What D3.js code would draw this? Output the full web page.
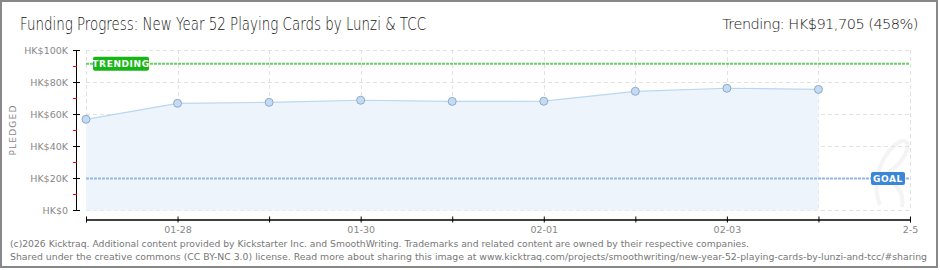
<!DOCTYPE html>
<html>
<head>
<meta charset="utf-8">
<script src="https://cdn.jsdelivr.net/npm/d3@7"></script>
<style>
  body { margin: 0; background: #fff; }
  svg text { font-family: "DejaVu Sans", sans-serif; }
</style>
</head>
<body>
<div id="chart"></div>
<script>
// values
var days = ["2026-01-27", "2026-01-28", "2026-01-29", "2026-01-30", "2026-01-31",
            "2026-02-01", "2026-02-02", "2026-02-03", "2026-02-04"];
var pledged = [57000, 67000, 67600, 68900, 68200, 68300, 74500, 76400, 75700];
var axisDays = ["2026-01-27", "2026-01-28", "2026-01-29", "2026-01-30", "2026-01-31",
                "2026-02-01", "2026-02-02", "2026-02-03", "2026-02-04", "2026-02-05"];
var axisLabels = ["", "01-28", "", "01-30", "", "02-01", "", "02-03", "", "2-5"];
var yTicks = [0, 20000, 40000, 60000, 80000, 100000];
var yTickLabels = ["HK$0", "HK$20K", "HK$40K", "HK$60K", "HK$80K", "HK$100K"];
var yMinor = [10000, 30000, 50000, 70000, 90000];
var goal = 20000;
var trending = 91705;

var W = 940, H = 270;
var parse = d3.timeParse("%Y-%m-%d");

var svg = d3.select("#chart").append("svg")
    .attr("width", W)
    .attr("height", H);

var x = d3.scaleTime()
    .domain([parse(axisDays[0]), parse(axisDays[axisDays.length - 1])])
    .range([86, 910]);
var y = d3.scaleLinear()
    .domain([0, 100000])
    .range([210.5, 50.5]);

// border
svg.append("rect")
   .attr("x", 1).attr("y", 1)
   .attr("width", 936).attr("height", 266)
   .attr("fill", "#fff")
   .attr("stroke", "#888")
   .attr("stroke-width", 2);

// faint watermark swoosh
svg.append("path")
   .attr("d", "M880,205 C872,185 878,160 895,145 C905,137 912,142 905,155 C898,168 885,175 878,178 C895,180 905,192 902,207")
   .attr("fill", "none")
   .attr("stroke", "#f4f4f4")
   .attr("stroke-width", 4);

// grid
svg.append("g").selectAll("line")
   .data(axisDays)
   .enter().append("line")
   .attr("x1", d => Math.round(x(parse(d))) + 0.5)
   .attr("x2", d => Math.round(x(parse(d))) + 0.5)
   .attr("y1", 50).attr("y2", 211)
   .attr("stroke", "#e2e2e2")
   .attr("stroke-dasharray", "4,3");
svg.append("g").selectAll("line")
   .data(yTicks)
   .enter().append("line")
   .attr("x1", 86).attr("x2", 910)
   .attr("y1", d => y(d)).attr("y2", d => y(d))
   .attr("stroke", "#e2e2e2")
   .attr("stroke-dasharray", "4,3");

// area + line
var pts = days.map((d, i) => ({date: parse(d), v: pledged[i]}));
svg.append("path")
   .datum(pts)
   .attr("fill", "#edf4fc")
   .attr("d", d3.area().x(d => x(d.date)).y0(y(0)).y1(d => y(d.v)));
svg.append("path")
   .datum(pts)
   .attr("fill", "none")
   .attr("stroke", "#b9d6f2")
   .attr("stroke-width", 1.2)
   .attr("d", d3.line().x(d => x(d.date)).y(d => y(d.v)));

// goal line
svg.append("line")
   .attr("x1", 86).attr("x2", 910)
   .attr("y1", y(goal)).attr("y2", y(goal))
   .attr("stroke", "#93b9e3")
   .attr("stroke-width", 2)
   .attr("stroke-dasharray", "3,1");

// trending line
svg.append("line")
   .attr("x1", 86).attr("x2", 910)
   .attr("y1", y(trending)).attr("y2", y(trending))
   .attr("stroke", "#66d066")
   .attr("stroke-width", 2)
   .attr("stroke-dasharray", "3,1");

// points
svg.append("g").selectAll("circle")
   .data(pts)
   .enter().append("circle")
   .attr("cx", d => x(d.date))
   .attr("cy", d => y(d.v))
   .attr("r", 4)
   .attr("fill", "#c3dcf5")
   .attr("stroke", "#92a9c6")
   .attr("stroke-width", 1);

// trending label
var tg = svg.append("g").attr("transform", "translate(93," + (y(trending) - 7) + ")");
tg.append("rect").attr("width", 56).attr("height", 14).attr("rx", 2).attr("fill", "#17b617");
tg.append("text").attr("x", 28).attr("y", 10.5).attr("text-anchor", "middle")
  .attr("font-size", 9).attr("font-weight", "bold").attr("fill", "#fff")
  .attr("letter-spacing", 0.6).text("TRENDING");

// goal label
var gg = svg.append("g").attr("transform", "translate(871," + (y(goal) - 6.5) + ")");
gg.append("rect").attr("width", 34).attr("height", 13).attr("rx", 2).attr("fill", "#3a87d8");
gg.append("text").attr("x", 17).attr("y", 10).attr("text-anchor", "middle")
  .attr("font-size", 9).attr("font-weight", "bold").attr("fill", "#fff")
  .attr("letter-spacing", 0.6).text("GOAL");

// y axis
svg.append("line")
   .attr("x1", 76.5).attr("x2", 76.5)
   .attr("y1", 50).attr("y2", 211)
   .attr("stroke", "#000");
svg.append("g").selectAll("line")
   .data(yTicks)
   .enter().append("line")
   .attr("x1", 73).attr("x2", 80)
   .attr("y1", d => y(d)).attr("y2", d => y(d))
   .attr("stroke", "#000");
svg.append("g").selectAll("line")
   .data(yMinor)
   .enter().append("line")
   .attr("x1", 73).attr("x2", 77)
   .attr("y1", d => y(d)).attr("y2", d => y(d))
   .attr("stroke", "#e00000");
svg.append("g").selectAll("text")
   .data(yTicks)
   .enter().append("text")
   .attr("x", 68)
   .attr("y", d => y(d) + 3.5)
   .attr("text-anchor", "end")
   .attr("font-size", 9.5)
   .attr("fill", "#888")
   .text((d, i) => yTickLabels[i]);

svg.append("text")
   .attr("transform", "translate(16,130) rotate(-90)")
   .attr("text-anchor", "middle")
   .attr("font-size", 9)
   .attr("letter-spacing", 1.2)
   .attr("fill", "#888")
   .text("PLEDGED");

// x axis
var xAxis = d3.axisBottom(x)
    .tickValues(axisDays.map(parse))
    .tickFormat((d, i) => axisLabels[i])
    .tickSizeInner(6)
    .tickSizeOuter(0)
    .tickPadding(3);
var xg = svg.append("g")
    .attr("transform", "translate(0,216.5)")
    .call(xAxis);
xg.select(".domain").attr("transform", "translate(0,3)").attr("stroke", "#000").attr("stroke-width", 1.3);
xg.selectAll(".tick line").attr("stroke", "#000");
xg.selectAll(".tick text")
  .attr("font-family", "DejaVu Sans")
  .attr("font-size", 9.5)
  .attr("fill", "#888")
  .attr("y", 10);

// titles
svg.append("text")
   .attr("x", 20).attr("y", 30)
   .attr("font-family", "Roboto")
   .attr("font-weight", 300)
   .attr("font-size", 17)
   .attr("fill", "#111")
   .attr("textLength", 406)
   .attr("lengthAdjust", "spacingAndGlyphs")
   .text("Funding Progress: New Year 52 Playing Cards by Lunzi & TCC");
svg.append("text")
   .attr("x", 918).attr("y", 29)
   .attr("text-anchor", "end")
   .attr("font-family", "Roboto")
   .attr("font-weight", 300)
   .attr("font-size", 14.5)
   .attr("letter-spacing", -0.5)
   .attr("fill", "#111")
   .text("Trending: HK$91,705 (458%)");

// footer
svg.append("text")
   .attr("x", 10).attr("y", 247)
   .attr("font-family", "DejaVu Sans Condensed, DejaVu Sans")
   .attr("font-size", 9.3)
   .attr("fill", "#777")
   .attr("textLength", 739)
   .attr("lengthAdjust", "spacingAndGlyphs")
   .text("(c)2026 Kicktraq. Additional content provided by Kickstarter Inc. and SmoothWriting. Trademarks and related content are owned by their respective companies.");
svg.append("text")
   .attr("x", 10).attr("y", 259.5)
   .attr("font-family", "DejaVu Sans Condensed, DejaVu Sans")
   .attr("font-size", 8.8)
   .attr("fill", "#777")
   .attr("textLength", 917)
   .attr("lengthAdjust", "spacingAndGlyphs")
   .text("Shared under the creative commons (CC BY-NC 3.0) license. Read more about sharing this image at www.kicktraq.com/projects/smoothwriting/new-year-52-playing-cards-by-lunzi-and-tcc/#sharing");
</script>
</body>
</html>
